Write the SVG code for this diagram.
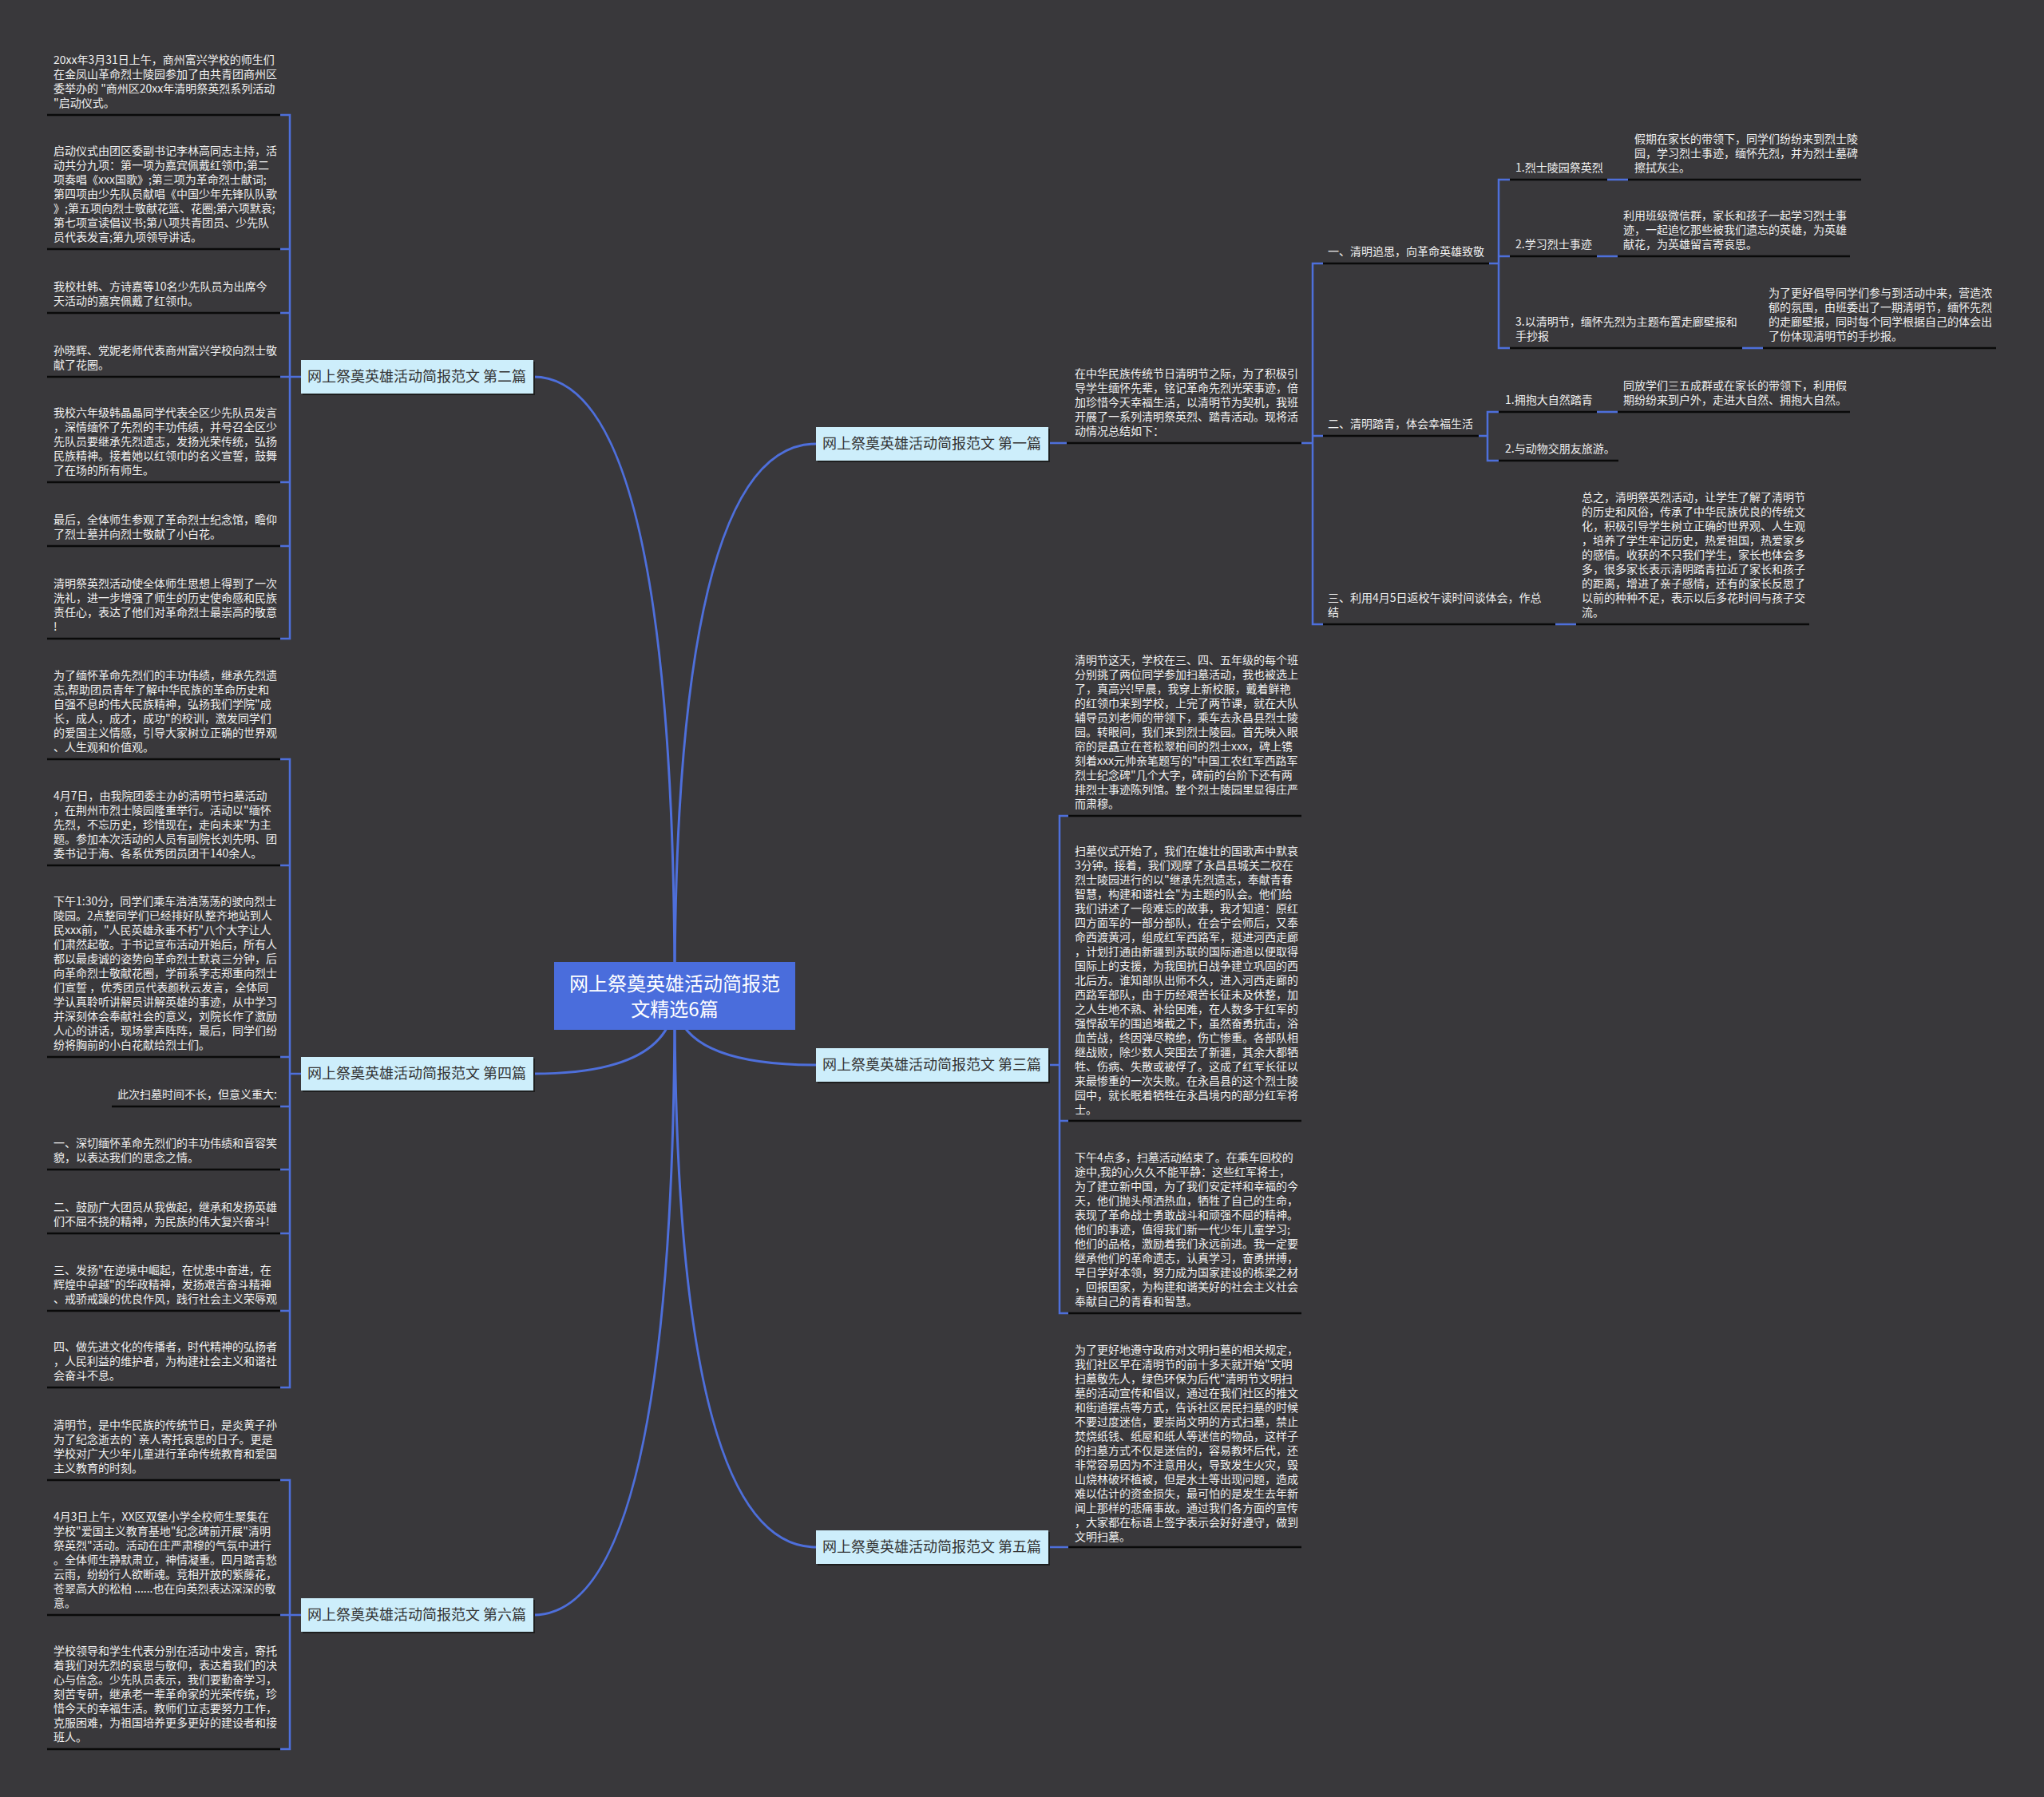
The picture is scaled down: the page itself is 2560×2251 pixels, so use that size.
<svg xmlns="http://www.w3.org/2000/svg" width="2560" height="2251" viewBox="0 0 2560 2251">
<style>
.t{font-family:"Noto Sans CJK SC","Noto Sans",sans-serif;font-size:14px;fill:#f0f0f0}
.u{stroke:#0a0a0a;stroke-width:2.5;fill:none}
.b{stroke:#4e6fdb;stroke-width:2.5;fill:none}
.c{stroke:#4e6fdb;stroke-width:3;fill:none}
.nb{fill:#cdeefb}
.ns{fill:#1e1e1e}
.nt{font-family:"Noto Sans CJK SC","Noto Sans",sans-serif;font-size:18px;fill:#333333;text-anchor:middle}
.rt{font-family:"Noto Sans CJK SC","Noto Sans",sans-serif;font-size:24px;fill:#ffffff;text-anchor:middle}
.e{text-anchor:end}
</style>
<rect width="2560" height="2251" fill="#39383b"/>
<g id="connectors">
<path class="c" d="M845,1247Q845,556 1022,556"/>
<path class="c" d="M845,1247Q845,472 668,472"/>
<path class="c" d="M845,1247Q845,1334 1022,1334"/>
<path class="c" d="M845,1247Q845,1345 668,1345"/>
<path class="c" d="M845,1247Q845,1938 1022,1938"/>
<path class="c" d="M845,1247Q845,2023 668,2023"/>
<path class="b" d="M351,144H363V800H351M351,312H363M351,392H363M351,472H377M351,604H363M351,684H363"/>
<path class="b" d="M351,951H363V1738H351M351,1084H363M351,1324H363M363,1345H377M351,1386H363M351,1465H363M351,1545H363M351,1642H363"/>
<path class="b" d="M351,1854H363V2191H351M351,2023H377"/>
<path class="b" d="M1313,555H1336M1630,555H1644M1657,330H1644V782H1657M1644,546H1657"/>
<path class="b" d="M1865,330H1877M1891,225H1877V436H1891M1877,321H1891"/>
<path class="b" d="M1852,546H1863M1877,516H1863V577H1877"/>
<path class="b" d="M2013,225H2039M2000,321H2026M2182,436H2208M2000,516H2026M1948,782H1974"/>
<path class="b" d="M1313,1334H1327M1338,1022H1327V1645H1338M1327,1404H1338"/>
<path class="b" d="M1313,1938H1338"/>
</g>
<g id="root">
<rect x="694" y="1205" width="302" height="85" fill="#4a6ddc"/>
<text class="rt"><tspan x="845" y="1241">网上祭奠英雄活动简报范</tspan><tspan x="845" y="1273">文精选6篇</tspan></text>
</g>
<g id="n1"><rect class="ns" x="1024" y="537" width="291" height="42"/><rect class="nb" x="1022" y="535" width="291" height="42"/><text class="nt" x="1167" y="562">网上祭奠英雄活动简报范文 第一篇</text></g>
<g id="n2"><rect class="ns" x="379" y="453" width="291" height="42"/><rect class="nb" x="377" y="451" width="291" height="42"/><text class="nt" x="522" y="478">网上祭奠英雄活动简报范文 第二篇</text></g>
<g id="n3"><rect class="ns" x="1024" y="1315" width="291" height="42"/><rect class="nb" x="1022" y="1313" width="291" height="42"/><text class="nt" x="1167" y="1340">网上祭奠英雄活动简报范文 第三篇</text></g>
<g id="n4"><rect class="ns" x="379" y="1326" width="291" height="42"/><rect class="nb" x="377" y="1324" width="291" height="42"/><text class="nt" x="522" y="1351">网上祭奠英雄活动简报范文 第四篇</text></g>
<g id="n5"><rect class="ns" x="1024" y="1919" width="291" height="42"/><rect class="nb" x="1022" y="1917" width="291" height="42"/><text class="nt" x="1167" y="1944">网上祭奠英雄活动简报范文 第五篇</text></g>
<g id="n6"><rect class="ns" x="379" y="2004" width="291" height="42"/><rect class="nb" x="377" y="2002" width="291" height="42"/><text class="nt" x="522" y="2029">网上祭奠英雄活动简报范文 第六篇</text></g>

<g id="n2-1"><path class="u" d="M59,144H351"/><text class="t"><tspan x="67" y="80">20xx年3月31日上午，商州富兴学校的师生们</tspan><tspan x="67" y="98">在金凤山革命烈士陵园参加了由共青团商州区</tspan><tspan x="67" y="116">委举办的 "商州区20xx年清明祭英烈系列活动</tspan><tspan x="67" y="134">"启动仪式。</tspan></text></g>
<g id="n2-2"><path class="u" d="M59,312H351"/><text class="t"><tspan x="67" y="194">启动仪式由团区委副书记李林高同志主持，活</tspan><tspan x="67" y="212">动共分九项：第一项为嘉宾佩戴红领巾;第二</tspan><tspan x="67" y="230">项奏唱《xxx国歌》;第三项为革命烈士献词;</tspan><tspan x="67" y="248">第四项由少先队员献唱《中国少年先锋队队歌</tspan><tspan x="67" y="266">》;第五项向烈士敬献花篮、花圈;第六项默哀;</tspan><tspan x="67" y="284">第七项宣读倡议书;第八项共青团员、少先队</tspan><tspan x="67" y="302">员代表发言;第九项领导讲话。</tspan></text></g>
<g id="n2-3"><path class="u" d="M59,392H351"/><text class="t"><tspan x="67" y="364">我校杜韩、方诗嘉等10名少先队员为出席今</tspan><tspan x="67" y="382">天活动的嘉宾佩戴了红领巾。</tspan></text></g>
<g id="n2-4"><path class="u" d="M59,472H351"/><text class="t"><tspan x="67" y="444">孙晓辉、党妮老师代表商州富兴学校向烈士敬</tspan><tspan x="67" y="462">献了花圈。</tspan></text></g>
<g id="n2-5"><path class="u" d="M59,604H351"/><text class="t"><tspan x="67" y="522">我校六年级韩晶晶同学代表全区少先队员发言</tspan><tspan x="67" y="540">，深情缅怀了先烈的丰功伟绩，并号召全区少</tspan><tspan x="67" y="558">先队员要继承先烈遗志，发扬光荣传统，弘扬</tspan><tspan x="67" y="576">民族精神。接着她以红领巾的名义宣誓，鼓舞</tspan><tspan x="67" y="594">了在场的所有师生。</tspan></text></g>
<g id="n2-6"><path class="u" d="M59,684H351"/><text class="t"><tspan x="67" y="656">最后，全体师生参观了革命烈士纪念馆，瞻仰</tspan><tspan x="67" y="674">了烈士墓并向烈士敬献了小白花。</tspan></text></g>
<g id="n2-7"><path class="u" d="M59,800H351"/><text class="t"><tspan x="67" y="736">清明祭英烈活动使全体师生思想上得到了一次</tspan><tspan x="67" y="754">洗礼，进一步增强了师生的历史使命感和民族</tspan><tspan x="67" y="772">责任心，表达了他们对革命烈士最崇高的敬意</tspan><tspan x="67" y="790">!</tspan></text></g>

<g id="n4-1"><path class="u" d="M59,951H351"/><text class="t"><tspan x="67" y="851">为了缅怀革命先烈们的丰功伟绩，继承先烈遗</tspan><tspan x="67" y="869">志,帮助团员青年了解中华民族的革命历史和</tspan><tspan x="67" y="887">自强不息的伟大民族精神，弘扬我们学院"成</tspan><tspan x="67" y="905">长，成人，成才，成功"的校训，激发同学们</tspan><tspan x="67" y="923">的爱国主义情感，引导大家树立正确的世界观</tspan><tspan x="67" y="941">、人生观和价值观。</tspan></text></g>
<g id="n4-2"><path class="u" d="M59,1084H351"/><text class="t"><tspan x="67" y="1002">4月7日，由我院团委主办的清明节扫墓活动</tspan><tspan x="67" y="1020">，在荆州市烈士陵园隆重举行。活动以"缅怀</tspan><tspan x="67" y="1038">先烈，不忘历史，珍惜现在，走向未来"为主</tspan><tspan x="67" y="1056">题。参加本次活动的人员有副院长刘先明、团</tspan><tspan x="67" y="1074">委书记于海、各系优秀团员团干140余人。</tspan></text></g>
<g id="n4-3"><path class="u" d="M59,1324H351"/><text class="t"><tspan x="67" y="1134">下午1:30分，同学们乘车浩浩荡荡的驶向烈士</tspan><tspan x="67" y="1152">陵园。2点整同学们已经排好队整齐地站到人</tspan><tspan x="67" y="1170">民xxx前，"人民英雄永垂不朽"八个大字让人</tspan><tspan x="67" y="1188">们肃然起敬。于书记宣布活动开始后，所有人</tspan><tspan x="67" y="1206">都以最虔诚的姿势向革命烈士默哀三分钟，后</tspan><tspan x="67" y="1224">向革命烈士敬献花圈，学前系李志郑重向烈士</tspan><tspan x="67" y="1242">们宣誓 ，优秀团员代表颜秋云发言，全体同</tspan><tspan x="67" y="1260">学认真聆听讲解员讲解英雄的事迹，从中学习</tspan><tspan x="67" y="1278">并深刻体会奉献社会的意义，刘院长作了激励</tspan><tspan x="67" y="1296">人心的讲话，现场掌声阵阵，最后，同学们纷</tspan><tspan x="67" y="1314">纷将胸前的小白花献给烈士们。</tspan></text></g>
<g id="n4-4"><path class="u" d="M140,1386H351"/><text class="t e" x="347" y="1376">此次扫墓时间不长，但意义重大:</text></g>
<g id="n4-5"><path class="u" d="M59,1465H351"/><text class="t"><tspan x="67" y="1437">一、深切缅怀革命先烈们的丰功伟绩和音容笑</tspan><tspan x="67" y="1455">貌，以表达我们的思念之情。</tspan></text></g>
<g id="n4-6"><path class="u" d="M59,1545H351"/><text class="t"><tspan x="67" y="1517">二、鼓励广大团员从我做起，继承和发扬英雄</tspan><tspan x="67" y="1535">们不屈不挠的精神，为民族的伟大复兴奋斗!</tspan></text></g>
<g id="n4-7"><path class="u" d="M59,1642H351"/><text class="t"><tspan x="67" y="1596">三、发扬"在逆境中崛起，在忧患中奋进，在</tspan><tspan x="67" y="1614">辉煌中卓越"的华政精神，发扬艰苦奋斗精神</tspan><tspan x="67" y="1632">、戒骄戒躁的优良作风，践行社会主义荣辱观</tspan></text></g>
<g id="n4-8"><path class="u" d="M59,1738H351"/><text class="t"><tspan x="67" y="1692">四、做先进文化的传播者，时代精神的弘扬者</tspan><tspan x="67" y="1710">，人民利益的维护者，为构建社会主义和谐社</tspan><tspan x="67" y="1728">会奋斗不息。</tspan></text></g>

<g id="n6-1"><path class="u" d="M59,1854H351"/><text class="t"><tspan x="67" y="1790">清明节，是中华民族的传统节日，是炎黄子孙</tspan><tspan x="67" y="1808">为了纪念逝去的`亲人寄托哀思的日子。更是</tspan><tspan x="67" y="1826">学校对广大少年儿童进行革命传统教育和爱国</tspan><tspan x="67" y="1844">主义教育的时刻。</tspan></text></g>
<g id="n6-2"><path class="u" d="M59,2023H351"/><text class="t"><tspan x="67" y="1905">4月3日上午，XX区双堡小学全校师生聚集在</tspan><tspan x="67" y="1923">学校"爱国主义教育基地"纪念碑前开展"清明</tspan><tspan x="67" y="1941">祭英烈"活动。活动在庄严肃穆的气氛中进行</tspan><tspan x="67" y="1959">。全体师生静默肃立，神情凝重。四月踏青愁</tspan><tspan x="67" y="1977">云雨，纷纷行人欲断魂。竞相开放的紫藤花，</tspan><tspan x="67" y="1995">苍翠高大的松柏 ......也在向英烈表达深深的敬</tspan><tspan x="67" y="2013">意。</tspan></text></g>
<g id="n6-3"><path class="u" d="M59,2191H351"/><text class="t"><tspan x="67" y="2073">学校领导和学生代表分别在活动中发言，寄托</tspan><tspan x="67" y="2091">着我们对先烈的哀思与敬仰，表达着我们的决</tspan><tspan x="67" y="2109">心与信念。少先队员表示，我们要勤奋学习，</tspan><tspan x="67" y="2127">刻苦专研，继承老一辈革命家的光荣传统，珍</tspan><tspan x="67" y="2145">惜今天的幸福生活。教师们立志要努力工作，</tspan><tspan x="67" y="2163">克服困难，为祖国培养更多更好的建设者和接</tspan><tspan x="67" y="2181">班人。</tspan></text></g>

<g id="n1-0"><path class="u" d="M1336,555H1630"/><text class="t"><tspan x="1346" y="473">在中华民族传统节日清明节之际，为了积极引</tspan><tspan x="1346" y="491">导学生缅怀先辈，铭记革命先烈光荣事迹，倍</tspan><tspan x="1346" y="509">加珍惜今天幸福生活，以清明节为契机，我班</tspan><tspan x="1346" y="527">开展了一系列清明祭英烈、踏青活动。现将活</tspan><tspan x="1346" y="545">动情况总结如下：</tspan></text></g>
<g id="n1-1"><path class="u" d="M1657,330H1865"/><text class="t" x="1663" y="320">一、清明追思，向革命英雄致敬</text></g>
<g id="n1-1-1"><path class="u" d="M1891,225H2013"/><text class="t" x="1898" y="215">1.烈士陵园祭英烈</text></g>
<g id="n1-1-1a"><path class="u" d="M2039,225H2331"/><text class="t"><tspan x="2047" y="179">假期在家长的带领下，同学们纷纷来到烈士陵</tspan><tspan x="2047" y="197">园，学习烈士事迹，缅怀先烈，并为烈士墓碑</tspan><tspan x="2047" y="215">擦拭灰尘。</tspan></text></g>
<g id="n1-1-2"><path class="u" d="M1891,321H2000"/><text class="t" x="1898" y="311">2.学习烈士事迹</text></g>
<g id="n1-1-2a"><path class="u" d="M2026,321H2317"/><text class="t"><tspan x="2033" y="275">利用班级微信群，家长和孩子一起学习烈士事</tspan><tspan x="2033" y="293">迹，一起追忆那些被我们遗忘的英雄，为英雄</tspan><tspan x="2033" y="311">献花，为英雄留言寄哀思。</tspan></text></g>
<g id="n1-1-3"><path class="u" d="M1891,436H2182"/><text class="t"><tspan x="1898" y="408">3.以清明节，缅怀先烈为主题布置走廊壁报和</tspan><tspan x="1898" y="426">手抄报</tspan></text></g>
<g id="n1-1-3a"><path class="u" d="M2208,436H2500"/><text class="t"><tspan x="2215" y="372">为了更好倡导同学们参与到活动中来，营造浓</tspan><tspan x="2215" y="390">郁的氛围，由班委出了一期清明节，缅怀先烈</tspan><tspan x="2215" y="408">的走廊壁报，同时每个同学根据自己的体会出</tspan><tspan x="2215" y="426">了份体现清明节的手抄报。</tspan></text></g>
<g id="n1-2"><path class="u" d="M1657,546H1852"/><text class="t" x="1663" y="536">二、清明踏青，体会幸福生活</text></g>
<g id="n1-2-1"><path class="u" d="M1877,516H2000"/><text class="t" x="1885" y="506">1.拥抱大自然踏青</text></g>
<g id="n1-2-1a"><path class="u" d="M2026,516H2317"/><text class="t"><tspan x="2033" y="488">同放学们三五成群或在家长的带领下，利用假</tspan><tspan x="2033" y="506">期纷纷来到户外，走进大自然、拥抱大自然。</tspan></text></g>
<g id="n1-2-2"><path class="u" d="M1877,577H2027"/><text class="t" x="1885" y="567">2.与动物交朋友旅游。</text></g>
<g id="n1-3"><path class="u" d="M1657,782H1948"/><text class="t"><tspan x="1663" y="754">三、利用4月5日返校午读时间谈体会，作总</tspan><tspan x="1663" y="772">结</tspan></text></g>
<g id="n1-3a"><path class="u" d="M1974,782H2266"/><text class="t"><tspan x="1981" y="628">总之，清明祭英烈活动，让学生了解了清明节</tspan><tspan x="1981" y="646">的历史和风俗，传承了中华民族优良的传统文</tspan><tspan x="1981" y="664">化，积极引导学生树立正确的世界观、人生观</tspan><tspan x="1981" y="682">，培养了学生牢记历史，热爱祖国，热爱家乡</tspan><tspan x="1981" y="700">的感情。收获的不只我们学生，家长也体会多</tspan><tspan x="1981" y="718">多，很多家长表示清明踏青拉近了家长和孩子</tspan><tspan x="1981" y="736">的距离，增进了亲子感情，还有的家长反思了</tspan><tspan x="1981" y="754">以前的种种不足，表示以后多花时间与孩子交</tspan><tspan x="1981" y="772">流。</tspan></text></g>

<g id="n3-1"><path class="u" d="M1338,1022H1630"/><text class="t"><tspan x="1346" y="832">清明节这天，学校在三、四、五年级的每个班</tspan><tspan x="1346" y="850">分别挑了两位同学参加扫墓活动，我也被选上</tspan><tspan x="1346" y="868">了，真高兴!早晨，我穿上新校服，戴着鲜艳</tspan><tspan x="1346" y="886">的红领巾来到学校，上完了两节课，就在大队</tspan><tspan x="1346" y="904">辅导员刘老师的带领下，乘车去永昌县烈士陵</tspan><tspan x="1346" y="922">园。转眼间，我们来到烈士陵园。首先映入眼</tspan><tspan x="1346" y="940">帘的是矗立在苍松翠柏间的烈士xxx，碑上镌</tspan><tspan x="1346" y="958">刻着xxx元帅亲笔题写的"中国工农红军西路军</tspan><tspan x="1346" y="976">烈士纪念碑"几个大字，碑前的台阶下还有两</tspan><tspan x="1346" y="994">排烈士事迹陈列馆。整个烈士陵园里显得庄严</tspan><tspan x="1346" y="1012">而肃穆。</tspan></text></g>
<g id="n3-2"><path class="u" d="M1338,1404H1630"/><text class="t"><tspan x="1346" y="1071">扫墓仪式开始了，我们在雄壮的国歌声中默哀</tspan><tspan x="1346" y="1089">3分钟。接着，我们观摩了永昌县城关二校在</tspan><tspan x="1346" y="1107">烈士陵园进行的以"继承先烈遗志，奉献青春</tspan><tspan x="1346" y="1125">智慧，构建和谐社会"为主题的队会。他们给</tspan><tspan x="1346" y="1143">我们讲述了一段难忘的故事，我才知道：原红</tspan><tspan x="1346" y="1161">四方面军的一部分部队，在会宁会师后，又奉</tspan><tspan x="1346" y="1179">命西渡黄河，组成红军西路军，挺进河西走廊</tspan><tspan x="1346" y="1197">，计划打通由新疆到苏联的国际通道以便取得</tspan><tspan x="1346" y="1215">国际上的支援，为我国抗日战争建立巩固的西</tspan><tspan x="1346" y="1233">北后方。谁知部队出师不久，进入河西走廊的</tspan><tspan x="1346" y="1251">西路军部队，由于历经艰苦长征未及休整，加</tspan><tspan x="1346" y="1269">之人生地不熟、补给困难，在人数多于红军的</tspan><tspan x="1346" y="1287">强悍敌军的围追堵截之下，虽然奋勇抗击，浴</tspan><tspan x="1346" y="1305">血苦战，终因弹尽粮绝，伤亡惨重。各部队相</tspan><tspan x="1346" y="1323">继战败，除少数人突围去了新疆，其余大都牺</tspan><tspan x="1346" y="1341">牲、伤病、失散或被俘了。这成了红军长征以</tspan><tspan x="1346" y="1359">来最惨重的一次失败。在永昌县的这个烈士陵</tspan><tspan x="1346" y="1377">园中，就长眠着牺牲在永昌境内的部分红军将</tspan><tspan x="1346" y="1395">士。</tspan></text></g>
<g id="n3-3"><path class="u" d="M1338,1645H1630"/><text class="t"><tspan x="1346" y="1455">下午4点多，扫墓活动结束了。在乘车回校的</tspan><tspan x="1346" y="1473">途中,我的心久久不能平静：这些红军将士，</tspan><tspan x="1346" y="1491">为了建立新中国，为了我们安定祥和幸福的今</tspan><tspan x="1346" y="1509">天，他们抛头颅洒热血，牺牲了自己的生命，</tspan><tspan x="1346" y="1527">表现了革命战士勇敢战斗和顽强不屈的精神。</tspan><tspan x="1346" y="1545">他们的事迹，值得我们新一代少年儿童学习;</tspan><tspan x="1346" y="1563">他们的品格，激励着我们永远前进。我一定要</tspan><tspan x="1346" y="1581">继承他们的革命遗志，认真学习，奋勇拼搏，</tspan><tspan x="1346" y="1599">早日学好本领，努力成为国家建设的栋梁之材</tspan><tspan x="1346" y="1617">，回报国家，为构建和谐美好的社会主义社会</tspan><tspan x="1346" y="1635">奉献自己的青春和智慧。</tspan></text></g>

<g id="n5-1"><path class="u" d="M1338,1938H1630"/><text class="t"><tspan x="1346" y="1696">为了更好地遵守政府对文明扫墓的相关规定，</tspan><tspan x="1346" y="1714">我们社区早在清明节的前十多天就开始"文明</tspan><tspan x="1346" y="1732">扫墓敬先人，绿色环保为后代"清明节文明扫</tspan><tspan x="1346" y="1750">墓的活动宣传和倡议，通过在我们社区的推文</tspan><tspan x="1346" y="1768">和街道摆点等方式，告诉社区居民扫墓的时候</tspan><tspan x="1346" y="1786">不要过度迷信，要崇尚文明的方式扫墓，禁止</tspan><tspan x="1346" y="1804">焚烧纸钱、纸屋和纸人等迷信的物品，这样子</tspan><tspan x="1346" y="1822">的扫墓方式不仅是迷信的，容易教坏后代，还</tspan><tspan x="1346" y="1840">非常容易因为不注意用火，导致发生火灾，毁</tspan><tspan x="1346" y="1858">山烧林破坏植被，但是水土等出现问题，造成</tspan><tspan x="1346" y="1876">难以估计的资金损失，最可怕的是发生去年新</tspan><tspan x="1346" y="1894">闻上那样的悲痛事故。通过我们各方面的宣传</tspan><tspan x="1346" y="1912">，大家都在标语上签字表示会好好遵守，做到</tspan><tspan x="1346" y="1930">文明扫墓。</tspan></text></g>
</svg>
